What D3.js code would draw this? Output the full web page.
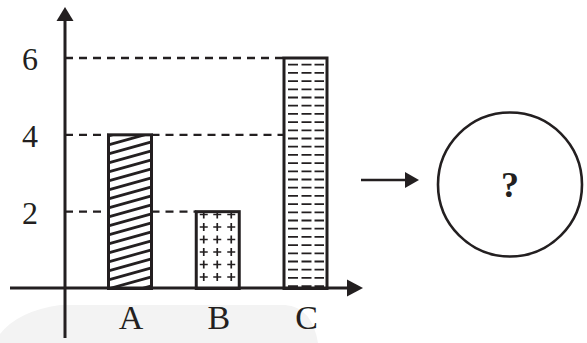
<!DOCTYPE html>
<html><head><meta charset="utf-8">
<script src="https://cdn.jsdelivr.net/npm/d3@7/dist/d3.min.js"></script>
<style>html,body{margin:0;padding:0;background:#fff}svg{display:block}
text{font-family:'Liberation Serif','Times New Roman',serif}</style>
</head><body>
<script>
const categories = ["A", "B", "C"];
const values = [4, 2, 6];
const patterns = ["hatch", "plus", "dash"];
const yTicks = [2, 4, 6];
const guideEnds = ["B", "C", "C"]; // where the dashed guide for each tick ends
const mystery = "?";

const W = 587, H = 343;
const svg = d3.select("body").append("svg").attr("width", W).attr("height", H);
const ink = "#231f20";

// faint watermark band
svg.append("path")
  .attr("d", "M0,334 Q18,311 60,305 L285,305 Q312,307 318,343 L0,343 Z")
  .attr("fill", "#f3f3f3");

const y = d3.scaleLinear().domain([0, 6]).range([288.5, 58]);
const x = d3.scalePoint().domain(categories).range([130, 305.5]);
const bw = 43;
const x0 = 65, axisY = 288;

// dashed guide lines: from axis to end bar, broken where a bar is at least as tall
const dash = "8,6";
yTicks.forEach((v, k) => {
  const yy = y(v);
  const endIdx = categories.indexOf(guideEnds[k]);
  let start = x0;
  categories.forEach((c, j) => {
    if (j > endIdx) return;
    const left = x(c) - bw / 2, right = x(c) + bw / 2;
    if (j === endIdx || values[j] >= v) {
      svg.append("line").attr("x1", start).attr("x2", left).attr("y1", yy).attr("y2", yy)
        .attr("stroke", ink).attr("stroke-width", 2.4).attr("stroke-dasharray", dash);
      start = right;
    }
  });
});

// bars with fill patterns
const defs = svg.append("defs");
categories.forEach((c, i) => {
  const left = x(c) - bw / 2, top = y(values[i]), bottom = y(0);
  const id = "clip" + i;
  defs.append("clipPath").attr("id", id).append("rect")
    .attr("x", left).attr("y", top).attr("width", bw).attr("height", bottom - top);
  const g = svg.append("g").attr("clip-path", `url(#${id})`);
  if (patterns[i] === "hatch") {
    d3.range(top - 20, bottom + 20, 9).forEach(yy => {
      g.append("line").attr("x1", left).attr("y1", yy + 12).attr("x2", left + bw).attr("y2", yy)
        .attr("stroke", ink).attr("stroke-width", 2.7);
    });
  } else if (patterns[i] === "plus") {
    const cols = [left + 7.5, left + 21, left + 35];
    d3.range(bottom - 11.5, top - 4, -12.5).forEach(yy => {
      cols.forEach(cx => {
        g.append("path").attr("d", `M${cx - 4},${yy}H${cx + 4}M${cx},${yy - 4}V${yy + 4}`)
          .attr("stroke", ink).attr("stroke-width", 1.7);
      });
    });
  } else {
    const cols = [[left + 4, left + 14], [left + 17.5, left + 27.5], [left + 30.5, left + 40]];
    d3.range(top + 6.7, bottom - 2, 8.2).forEach(yy => {
      cols.forEach(([a, b]) => {
        g.append("line").attr("x1", a).attr("x2", b).attr("y1", yy).attr("y2", yy)
          .attr("stroke", ink).attr("stroke-width", 1.8);
      });
    });
  }
  svg.append("rect").attr("x", left).attr("y", top).attr("width", bw).attr("height", bottom - top)
    .attr("fill", "none").attr("stroke", ink).attr("stroke-width", 3);
});

// axes
svg.append("line").attr("x1", 10).attr("x2", 350).attr("y1", axisY).attr("y2", axisY)
  .attr("stroke", ink).attr("stroke-width", 3);
svg.append("path").attr("d", `M363,${axisY}L347,${axisY - 8.5}L347,${axisY + 8.5}Z`).attr("fill", ink);
svg.append("line").attr("x1", x0).attr("x2", x0).attr("y1", 338).attr("y2", 18)
  .attr("stroke", ink).attr("stroke-width", 3);
svg.append("path").attr("d", `M${x0},7L${x0 - 8.5},21L${x0 + 8.5},21Z`).attr("fill", ink);

// tick labels
svg.selectAll("text.yt").data(yTicks).enter().append("text")
  .attr("x", 30).attr("y", d => y(d) + 12)
  .attr("text-anchor", "middle")
  .attr("font-size", 32).attr("fill", ink).text(d => d);

svg.selectAll("text.xt").data(categories).enter().append("text")
  .attr("x", d => x(d) + 1).attr("y", 329)
  .attr("text-anchor", "middle")
  .attr("font-size", 34).attr("fill", ink).text(d => d);

// right arrow and circle
svg.append("line").attr("x1", 361).attr("x2", 407).attr("y1", 180).attr("y2", 180)
  .attr("stroke", ink).attr("stroke-width", 2.6);
svg.append("path").attr("d", "M419,180L405,172L405,188Z").attr("fill", ink);
svg.append("circle").attr("cx", 510).attr("cy", 184.5).attr("r", 72)
  .attr("fill", "none").attr("stroke", ink).attr("stroke-width", 2.6);
svg.append("text").attr("x", 510).attr("y", 197).attr("text-anchor", "middle")
  .attr("font-weight", "bold").attr("font-size", 36).attr("fill", ink).text(mystery);
</script>
</body></html>
